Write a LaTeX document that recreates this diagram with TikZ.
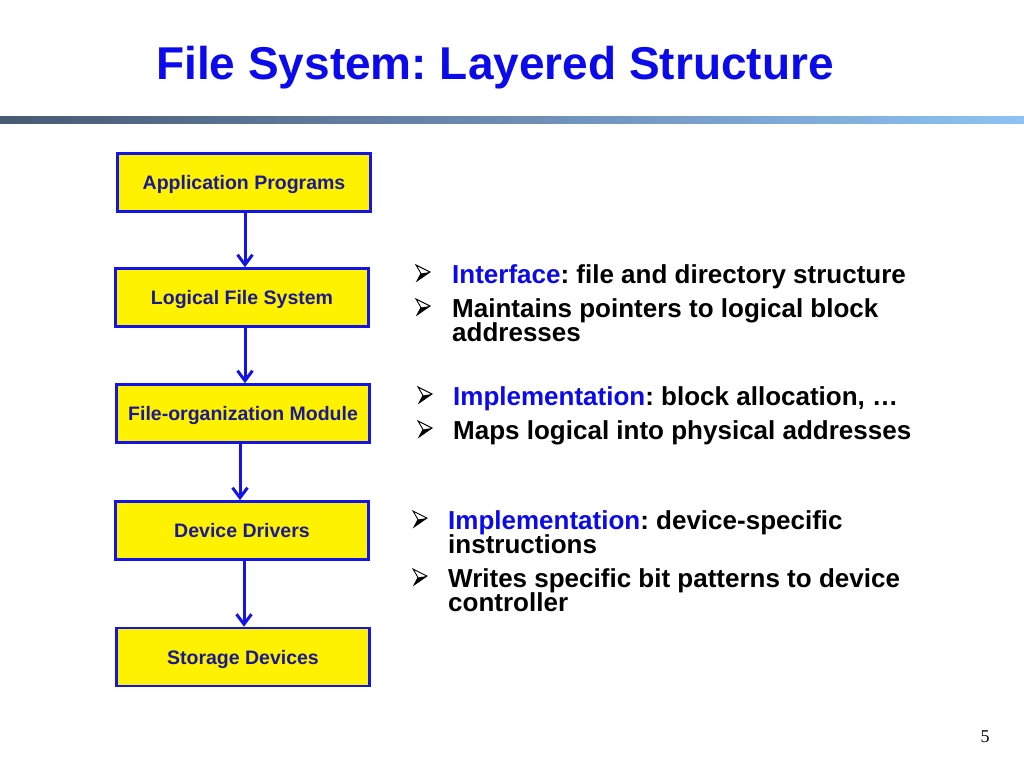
\documentclass[tikz,border=0pt]{standalone}
\usepackage{fontspec}
\setmainfont{Liberation Sans}
\newfontfamily\seriffont{Liberation Serif}
\usetikzlibrary{arrows.meta}
\frenchspacing
\definecolor{boxblue}{RGB}{20,20,230}
\definecolor{boxtext}{RGB}{25,25,150}
\definecolor{titleblue}{RGB}{10,10,235}
\definecolor{kwblue}{RGB}{10,10,235}
\definecolor{barleft}{RGB}{72,90,115}
\definecolor{barmid}{RGB}{110,140,180}
\definecolor{barright}{RGB}{140,195,245}
\tikzset{
  layerbox/.style={draw=boxblue, line width=2.6pt, fill=yellow, minimum width=253pt, minimum height=58pt, inner sep=0pt,
    text height=14pt, text depth=0pt,
    font=\fontsize{19.5}{22}\selectfont\bfseries, text=boxtext},
  flowarrow/.style={draw=boxblue, line width=3pt, -{Straight Barb[length=10pt,width=15pt,line width=3pt]}},
  bullettext/.style={anchor=base west, inner sep=0pt, font=\fontsize{26}{24}\selectfont\bfseries},
  arrowbullet/.pic={
    \fill[black] (14,-1) -- (5,0.5) -- (1,8) -- cycle;
    \draw[black, line width=0.9pt, line join=miter] (14,-1) -- (0,-8) -- (5,0.5) -- (1,8) -- cycle;
  },
}
\newcommand{\kw}[1]{\textcolor{kwblue}{#1}}
\begin{document}
\begin{tikzpicture}[x=1pt,y=-1pt]
\useasboundingbox (0,0) rectangle (1024,768);
\fill[white] (0,0) rectangle (1024,768);
% title
\node[anchor=base, inner sep=0pt, font=\fontsize{46}{50}\selectfont\bfseries, text=titleblue] (title) at (495,79) {File System: Layered Structure};
% gradient bar
\shade[left color=barleft, right color=barright, middle color=barmid] (0,116) rectangle (1024,123);
% boxes
\node[layerbox] (app) at (244,182.5) {Application Programs};
\node[layerbox] (lfs) at (242,297.5) {Logical File System};
\node[layerbox] (fom) at (243,413.5) {File-organization Module};
\node[layerbox] (dd) at (242,530.5) {Device Drivers};
\node[layerbox] (sd) at (243,657) {Storage Devices};
% arrows
\draw[flowarrow] ([xshift=1pt]app.south) -- ([xshift=3pt]lfs.north);
\draw[flowarrow] ([xshift=3pt]lfs.south) -- ([xshift=2pt]fom.north);
\draw[flowarrow] ([xshift=-3pt]fom.south) -- ([xshift=-2pt]dd.north);
\draw[flowarrow] ([xshift=2pt]dd.south) -- ([xshift=1pt]sd.north);
% group 1
\pic at (416,273) {arrowbullet};
\node[bullettext] (t1) at (452,283) {\kw{Interface}: file and directory structure};
\pic at (416,307) {arrowbullet};
\node[bullettext] (t2) at (452,317) {Maintains pointers to logical block};
\node[bullettext] (t2b) at (452,341) {addresses};
% group 2
\pic at (418,395) {arrowbullet};
\node[bullettext] (t3) at (453,405) {\kw{Implementation}: block allocation, \ldots};
\pic at (418,429) {arrowbullet};
\node[bullettext] (t4) at (453,439) {Maps logical into physical addresses};
% group 3
\pic at (413,519) {arrowbullet};
\node[bullettext] (t5) at (448,529) {\kw{Implementation}: device-specific};
\node[bullettext] (t5b) at (448,553) {instructions};
\pic at (413,577) {arrowbullet};
\node[bullettext] (t6) at (448,587) {Writes specific bit patterns to device};
\node[bullettext] (t6b) at (448,611) {controller};
% page number
\node[anchor=base, inner sep=0pt, font=\seriffont\fontsize{18}{20}\selectfont] (pg) at (985,742) {5};
\end{tikzpicture}
\end{document}
